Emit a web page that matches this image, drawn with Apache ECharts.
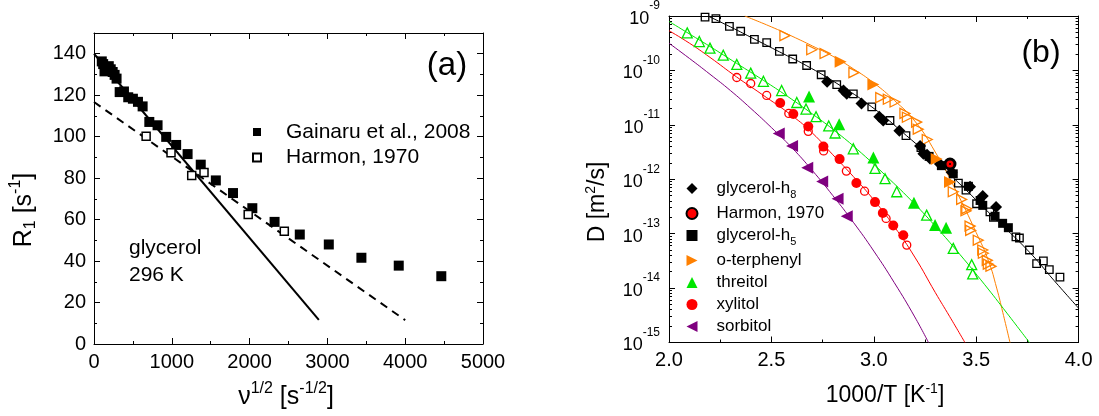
<!DOCTYPE html>
<html>
<head>
<meta charset="utf-8">
<script src="https://cdn.jsdelivr.net/npm/echarts@6/dist/echarts.min.js"></script>
<style>
  html, body { margin: 0; padding: 0; background: #fff; }
  #chart { width: 1099px; height: 416px; }
</style>
</head>
<body>
<div id="chart"></div>
<script>
// ---------- Panel (a): R1 of glycerol at 296 K vs sqrt(frequency) ----------
const gainaru2008 = [[100,136.3],[118,135],[135,131.5],[160,133.2],[190,134],[215,132.5],[240,131.2],[265,129.8],[290,128],
  [330,121.5],[385,121.8],[440,119],[500,118.3],[565,116.8],[625,114.6],[711,107.1],[817,105.5],[928,99.9],[1056,96],
  [1203,91.6],[1372,86.5],[1566,78.9],[1787,72.8],[2035,65.5],[2321,58.9],[2645,52.8],[3018,48],[3437,41.6],[3917,37.8],[4464,32.7]];
const harmon1970a = [[670,100.2],[990,92.2],[1256,81.3],[1414,82.7],[1982,62.4],[2446,54.4]];
const fitSolid = [[0,140],[2890,11.6]];
const fitDashed = [[0,116.7],[4000,11.5]];

// ---------- Panel (b): diffusion coefficients, pairs of [1000/T, log10 D] ----------
const glyOpen = [[2.176,-9.02],[2.229,-9.05],[2.295,-9.19],[2.350,-9.28],[2.417,-9.43],[2.477,-9.49],[2.539,-9.65],[2.604,-9.79],
  [2.672,-9.91],[2.743,-10.08],[2.819,-10.26],[2.900,-10.43],[2.990,-10.67],[3.079,-10.92],[3.157,-11.2],[3.23,-11.42],
  [3.413,-12.07],[3.45,-12.2],[3.502,-12.45],[3.567,-12.60],[3.584,-12.70],[3.694,-13.06],[3.711,-13.08],[3.760,-13.30],
  [3.795,-13.55],[3.828,-13.50],[3.857,-13.66],[3.909,-13.80]];
const glyH8 = [[2.772,-10.21],[2.852,-10.37],[2.868,-10.43],[2.940,-10.61],[3.027,-10.85],[3.046,-10.92],[3.125,-11.11],
  [3.226,-11.39],[3.242,-11.53],[3.260,-11.55],[3.274,-11.62],[3.323,-11.72],[3.380,-11.87],[3.470,-12.14],[3.532,-12.31],[3.597,-12.51]];
const glyH5 = [[3.27,-11.58],[3.33,-11.75],[3.388,-11.90],[3.462,-12.13],[3.519,-12.39],[3.532,-12.48],[3.592,-12.68],[3.629,-12.81],[3.657,-12.89]];
const harmon1970b = [[3.372,-11.72]];
const otpFilled = [[2.838,-9.84],[2.998,-10.26],[3.307,-11.63],[3.372,-12.05]];
const otpOpen = [[2.566,-9.36],[2.697,-9.62],[2.762,-9.69],[2.903,-10.04],[3.034,-10.50],[3.071,-10.53],[3.104,-10.58],
  [3.152,-10.79],[3.164,-10.86],[3.209,-10.95],[3.217,-11.08],[3.261,-11.27],[3.388,-12.23],[3.429,-12.37],[3.450,-12.58],
  [3.454,-12.54],[3.470,-12.86],[3.473,-12.94],[3.510,-13.12],[3.532,-13.30],[3.535,-13.36],[3.554,-13.49],[3.559,-13.56],[3.572,-13.60]];
const threitolFilled = [[2.684,-10.48],[2.831,-10.99],[2.998,-11.60],[3.196,-12.43],[3.299,-12.84],[3.353,-12.89]];
const threitolOpen = [[2.089,-9.31],[2.148,-9.47],[2.200,-9.59],[2.265,-9.72],[2.331,-9.89],[2.399,-10.05],[2.461,-10.20],
  [2.550,-10.37],[2.624,-10.59],[2.669,-10.71],[2.718,-10.85],[2.780,-11.02],[2.811,-11.15],[2.900,-11.44],[3.006,-11.80],
  [3.055,-11.99],[3.112,-12.23],[3.258,-12.66],[3.388,-13.27],[3.478,-13.57],[3.483,-13.74]];
const xylitolFilled = [[2.543,-10.60],[2.607,-10.80],[2.680,-11.03],[2.754,-11.40],[2.833,-11.63],[2.915,-12.07],
  [3.006,-12.42],[3.044,-12.62],[3.095,-12.85],[3.144,-13.03]];
const xylitolOpen = [[2.331,-10.13],[2.399,-10.24],[2.477,-10.46],[2.585,-10.79],[2.680,-11.12],[2.755,-11.48],
  [2.866,-11.85],[2.955,-12.22],[3.060,-12.72],[3.161,-13.21]];
const sorbitolFilled = [[2.536,-11.16],[2.601,-11.39],[2.675,-11.79],[2.748,-12.04],[2.823,-12.36],[2.868,-12.68]];

// fitted curves
const curveGlycerol = [[2.19,-9.0],[2.30,-9.2],[2.42,-9.43],[2.54,-9.66],[2.67,-9.91],[2.82,-10.24],[2.99,-10.67],
  [3.16,-11.2],[3.30,-11.66],[3.41,-12.05],[3.58,-12.68],[3.755,-13.32],[3.88,-13.86],[4.0,-14.37]];
const curveOtp = [[2.37,-9.0],[2.5,-9.2],[2.6,-9.37],[2.7,-9.55],[2.8,-9.74],[2.9,-9.97],[3.0,-10.23],[3.1,-10.55],
  [3.2,-10.93],[3.3,-11.5],[3.4,-12.2],[3.5,-12.98],[3.56,-13.5],[3.6,-14.0],[3.63,-14.45],[3.665,-15.0]];
const curveThreitol = [[2.0,-9.1],[2.1,-9.33],[2.2,-9.56],[2.33,-9.87],[2.46,-10.18],[2.58,-10.48],[2.7,-10.8],[2.82,-11.14],
  [2.94,-11.52],[3.06,-11.94],[3.18,-12.38],[3.3,-12.86],[3.42,-13.38],[3.54,-13.93],[3.65,-14.46],[3.76,-15.0]];
const curveXylitol = [[2.0,-9.27],[2.1,-9.5],[2.2,-9.76],[2.33,-10.12],[2.45,-10.43],[2.6,-10.83],[2.7,-11.15],[2.8,-11.55],
  [2.9,-11.95],[3.0,-12.38],[3.1,-12.87],[3.2,-13.43],[3.3,-14.08],[3.37,-14.52],[3.445,-15.0]];
const curveSorbitol = [[2.0,-9.5],[2.1,-9.78],[2.2,-10.07],[2.3,-10.37],[2.4,-10.7],[2.5,-11.05],[2.6,-11.42],[2.7,-11.84],
  [2.8,-12.3],[2.9,-12.79],[3.0,-13.32],[3.1,-13.9],[3.2,-14.53],[3.267,-15.0]];

const legendLabelsB = {
  glyH8: 'glycerol-h{sub|8}', harmonB: 'Harmon, 1970', glyH5: 'glycerol-h{sub|5}',
  otp: 'o-terphenyl', threitol: 'threitol', xylitol: 'xylitol', sorbitol: 'sorbitol'
};
// sideways triangle glyphs for the legend
const ICON_RIGHT = 'path://M0,0L10,5L0,10Z';
const ICON_LEFT = 'path://M10,0L0,5L10,10Z';
const legendIconB = { otp: ICON_RIGHT, sorbitol: ICON_LEFT };

const FONT = '"Liberation Sans", Arial, Helvetica, sans-serif';
const ORANGE = '#ff8000', GREEN = '#00e600', RED = '#ff0000', PURPLE = '#7f007f';
const toD = arr => arr.map(([x, e]) => [x, Math.pow(10, e)]);

// minor ticks of the log axis, expressed as decade exponents
const minorExp = [];
for (let n = -15; n < -9; n++) for (let k = 2; k <= 9; k++) minorExp.push(n + Math.log10(k));

function frame(extra) {
  return Object.assign({
    type: 'value',
    axisLine: { show: true, onZero: false, lineStyle: { color: '#000', width: 1 } },
    axisTick: { show: true, inside: true, length: 6, lineStyle: { color: '#000', width: 1 } },
    minorTick: { show: true, splitNumber: 2, length: 3, lineStyle: { color: '#000', width: 1 } },
    splitLine: { show: false },
    axisLabel: { show: false }
  }, extra);
}
const tickFont = { show: true, color: '#000', fontFamily: FONT, fontSize: 20, margin: 8 };
const logLabel = {
  show: true, margin: 9, color: '#000', fontFamily: FONT,
  formatter: v => '{b|10}{s|' + Math.round(Math.log10(v)) + '}',
  rich: {
    b: { fontSize: 18, fontFamily: FONT, color: '#000', verticalAlign: 'middle', padding: [6, 0, 0, 0] },
    s: { fontSize: 12, fontFamily: FONT, color: '#000', verticalAlign: 'middle', padding: [0, 0, 20, 0] }
  }
};
const minorOverlay = pos => ({
  gridIndex: 1, type: 'value', position: pos, min: -15, max: -9,
  axisLine: { show: false }, splitLine: { show: false }, axisLabel: { show: false },
  axisTick: { show: true, inside: true, length: 3, customValues: minorExp, lineStyle: { color: '#000', width: 1 } },
  minorTick: { show: false }
});

function scatter(name, data, xi, yi, symbol, size, fill, stroke, bw, rot, z) {
  return {
    name, type: 'scatter', xAxisIndex: xi, yAxisIndex: yi, data, symbol, symbolSize: size,
    symbolRotate: rot || 0, z: z || 3, silent: true,
    itemStyle: { color: fill, borderColor: stroke, borderWidth: bw, opacity: 1 }
  };
}
function curve(data, color, xi, yi, width, dash) {
  return {
    type: 'line', xAxisIndex: xi, yAxisIndex: yi, data, showSymbol: false, symbol: 'none',
    smooth: xi === 2 ? 0.5 : false, silent: true, z: 2,
    lineStyle: { color, width, type: dash || 'solid' }
  };
}
const NONE = 'rgba(255,255,255,0)';

const richTitle = (size, supSize) => ({
  m: { fontSize: size, fontFamily: FONT, fill: '#000', verticalAlign: 'middle' },
  sup: { fontSize: supSize, fontFamily: FONT, fill: '#000', verticalAlign: 'middle', padding: [0, 0, Math.round(size * 0.62), 0] },
  sub: { fontSize: supSize, fontFamily: FONT, fill: '#000', verticalAlign: 'middle', padding: [Math.round(size * 0.5), 0, 0, 0] }
});
function label(text, x, y, size, supSize, rotation, align) {
  return {
    type: 'text', x, y, rotation: rotation || 0, silent: true,
    style: { text, rich: richTitle(size, supSize || 14), fontSize: size, fontFamily: FONT, fill: '#000',
             align: align || 'center', verticalAlign: 'middle' }
  };
}

const option = {
  animation: false,
  backgroundColor: '#fff',
  grid: [
    { left: 94, top: 33, width: 389, height: 311 },
    { left: 669, top: 15.5, width: 409.6, height: 327 }
  ],
  xAxis: [
    frame({ gridIndex: 0, position: 'bottom', min: 0, max: 5000, interval: 1000,
            axisLabel: Object.assign({}, tickFont, { formatter: v => String(v) }) }),
    frame({ gridIndex: 0, position: 'top', min: 0, max: 5000, interval: 1000 }),
    frame({ gridIndex: 1, position: 'bottom', min: 2, max: 4, interval: 0.5,
            axisLabel: Object.assign({}, tickFont, { formatter: v => v.toFixed(1) }) }),
    frame({ gridIndex: 1, position: 'top', min: 2, max: 4, interval: 0.5 })
  ],
  yAxis: [
    frame({ gridIndex: 0, position: 'left', min: 0, max: 150, interval: 20,
            axisLabel: Object.assign({}, tickFont, { showMaxLabel: false, formatter: v => (v % 20 === 0 ? String(v) : '') }) }),
    frame({ gridIndex: 0, position: 'right', min: 0, max: 150, interval: 20 }),
    frame({ gridIndex: 1, type: 'log', logBase: 10, position: 'left', min: 1e-15, max: 1e-9, splitNumber: 6,
            minorTick: { show: false }, axisLabel: logLabel }),
    frame({ gridIndex: 1, type: 'log', logBase: 10, position: 'right', min: 1e-15, max: 1e-9, splitNumber: 6,
            minorTick: { show: false } }),
    minorOverlay('left'),
    minorOverlay('right')
  ],
  legend: [
    {
      data: ['Gainaru et al., 2008', 'Harmon, 1970'], orient: 'vertical', left: 247, top: 116.5,
      itemWidth: 8, itemHeight: 8, itemGap: 4.5, selectedMode: false,
      textStyle: { fontSize: 21, lineHeight: 21, fontFamily: FONT, color: '#000', padding: [0, 0, 0, 20] }
    },
    {
      data: Object.keys(legendLabelsB).map(name => (legendIconB[name] ? { name, icon: legendIconB[name] } : { name })),
      orient: 'vertical', left: 680.5, top: 175,
      itemWidth: 11, itemHeight: 11, itemGap: 5, selectedMode: false,
      formatter: name => legendLabelsB[name],
      textStyle: { fontSize: 17, lineHeight: 17, fontFamily: FONT, color: '#000', padding: [0, 0, 0, 14],
        rich: { sub: { fontSize: 11, fontFamily: FONT, color: '#000', verticalAlign: 'middle', padding: [12, 0, 0, 0] } } }
    }
  ],
  series: [
    // panel (a)
    curve(fitSolid, '#000', 0, 0, 2),
    curve(fitDashed, '#000', 0, 0, 2, [8, 6]),
    scatter('Gainaru et al., 2008', gainaru2008, 0, 0, 'rect', 10, '#000', '#000', 0),
    scatter('Harmon, 1970', harmon1970a, 0, 0, 'rect', 8, '#fff', '#000', 1.5),
    // panel (b) fitted curves
    curve(toD(curveGlycerol), '#000', 2, 2, 1),
    curve(toD(curveOtp), ORANGE, 2, 2, 1),
    curve(toD(curveThreitol), GREEN, 2, 2, 1),
    curve(toD(curveXylitol), RED, 2, 2, 1),
    curve(toD(curveSorbitol), PURPLE, 2, 2, 1),
    // panel (b) open markers
    scatter('glyOpen', toD(glyOpen), 2, 2, 'rect', 7.5, NONE, '#000', 1.3),
    scatter('otpOpen', toD(otpOpen), 2, 2, 'triangle', 10, NONE, ORANGE, 1.3, -90),
    scatter('threitolOpen', toD(threitolOpen), 2, 2, 'triangle', 10, NONE, GREEN, 1.3),
    scatter('xylitolOpen', toD(xylitolOpen), 2, 2, 'circle', 8, NONE, RED, 1.3),
    // panel (b) filled markers
    scatter('glyH8', toD(glyH8), 2, 2, 'diamond', 12, '#000', '#000', 0, 0, 4),
    scatter('glyH5', toD(glyH5), 2, 2, 'rect', 9, '#000', '#000', 0, 0, 4),
    scatter('otp', toD(otpFilled), 2, 2, 'triangle', 12, ORANGE, ORANGE, 0, -90, 4),
    scatter('threitol', toD(threitolFilled), 2, 2, 'triangle', 12, GREEN, GREEN, 0, 0, 4),
    scatter('xylitol', toD(xylitolFilled), 2, 2, 'circle', 10, RED, RED, 0, 0, 4),
    scatter('sorbitol', toD(sorbitolFilled), 2, 2, 'triangle', 12, PURPLE, PURPLE, 0, 90, 4),
    scatter('harmonB', toD(harmon1970b), 2, 2, 'circle', 10, RED, '#000', 3, 0, 5),
    scatter('harmonDot', toD(harmon1970b), 2, 2, 'circle', 2, '#000', '#000', 0, 0, 6)
  ],
  graphic: [
    label('R{sub|1} [s{sup|-1}]', 24, 210, 25, 16, Math.PI / 2),
    label('ν{sup|1/2} [s{sup|-1/2}]', 286, 397, 25, 16),
    label('glycerol', 129, 248, 21, 14, 0, 'left'),
    label('296 K', 129, 275, 21, 14, 0, 'left'),
    label('(a)', 447, 66, 33),
    label('D [m{sup|2}/s]', 598, 202, 23, 14, Math.PI / 2),
    label('1000/T [K{sup|-1}]', 885, 396, 23, 14),
    label('(b)', 1041, 53, 32)
  ]
};

echarts.init(document.getElementById('chart'), null, { renderer: 'canvas' }).setOption(option);
</script>
</body>
</html>
